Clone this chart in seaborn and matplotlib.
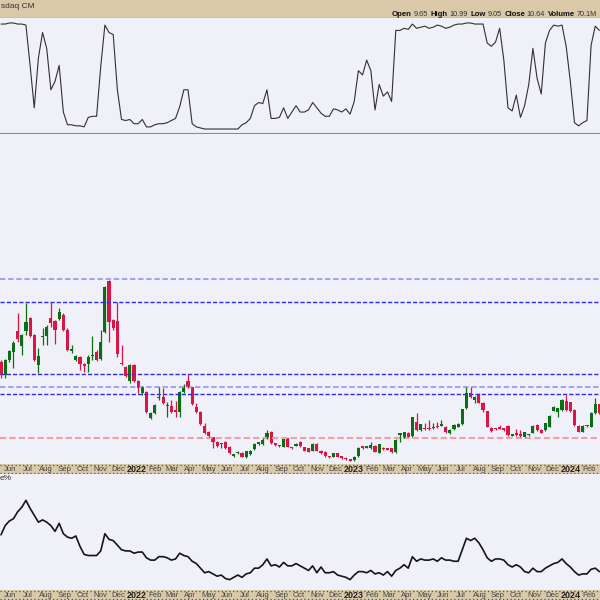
import pandas as pd
import seaborn as sns
import matplotlib.pyplot as plt

sns.set_style("white")
plt.rcParams["font.family"] = ["Liberation Sans", "DejaVu Sans"]

# weekly bars
weeks = pd.date_range("2021-05-24", periods=145, freq="7D")

opens = [14.8, 13.5, 15.0, 15.83, 17.9, 16.4, 17.9, 19.23, 17.5, 14.5,
         17.27, 17.4, 19.17, 18.9, 19.07, 19.5, 18.0, 15.93, 15.0, 15.33,
         14.6, 14.6, 15.37, 15.77, 15.07, 17.83, 22.93, 19.0, 18.9, 14.75,
         14.33, 12.93, 14.5, 12.9, 11.73, 11.83, 9.17, 9.73, 11.2, 11.33,
         10.37, 10.4, 9.93, 9.83, 11.77, 12.9, 12.27, 10.33, 9.83, 8.43,
         7.8, 7.27, 6.83, 6.6, 6.83, 6.33, 5.4, 5.7, 5.73, 5.27,
         5.6, 6.07, 6.63, 6.57, 7.17, 7.83, 6.67, 6.45, 6.33, 7.17,
         6.27, 6.45, 6.83, 6.27, 6.17, 5.93, 6.6, 5.93, 5.8, 5.37,
         5.33, 5.67, 5.4, 5.23, 5.1, 5.0, 5.4, 6.3, 6.23, 6.17,
         6.43, 5.73, 6.23, 6.12, 6.17, 5.8, 7.55, 7.27, 7.73, 7.4,
         8.83, 8.0, 8.15, 8.15, 8.2, 8.37, 8.45, 8.33, 7.67, 8.07,
         8.33, 8.57, 10.17, 11.67, 11.0, 11.5, 10.73, 9.9, 8.23, 8.17,
         8.2, 8.17, 8.4, 7.43, 7.73, 7.6, 7.33, 7.47, 7.73, 8.5,
         8.0, 8.0, 8.33, 9.93, 9.77, 10.0, 10.9, 10.77, 10.0, 8.43,
         7.83, 8.47, 8.33, 9.67, 10.57]
highs = [15.0, 15.1, 16.0, 16.93, 19.67, 17.6, 20.67, 19.3, 17.6, 16.17,
         18.17, 18.5, 20.77, 19.0, 20.17, 19.67, 18.17, 16.5, 15.5, 15.4,
         14.7, 15.5, 17.4, 16.0, 18.0, 22.4, 23.0, 19.1, 20.83, 16.5,
         14.4, 14.6, 14.6, 13.0, 12.4, 11.9, 9.8, 10.6, 12.27, 12.17,
         10.83, 11.0, 10.9, 11.9, 12.6, 13.57, 12.35, 10.73, 9.9, 8.67,
         7.9, 7.35, 6.9, 6.73, 6.9, 6.4, 5.65, 5.87, 5.8, 5.93,
         6.0, 6.73, 6.83, 7.17, 8.0, 7.9, 6.75, 6.5, 7.15, 7.2,
         6.35, 6.73, 6.9, 6.33, 6.23, 6.73, 6.67, 6.0, 5.87, 5.43,
         5.73, 5.73, 5.45, 5.27, 5.13, 5.4, 6.33, 6.37, 6.4, 6.83,
         6.5, 6.63, 6.3, 6.17, 6.23, 7.07, 7.73, 7.85, 7.8, 9.35,
         9.67, 8.65, 8.67, 9.0, 8.67, 8.83, 9.0, 8.4, 8.07, 8.57,
         8.67, 10.15, 12.33, 12.27, 11.4, 11.67, 10.8, 9.95, 8.3, 8.23,
         8.5, 8.23, 8.47, 7.63, 8.07, 8.0, 7.83, 7.6, 8.47, 8.6,
         8.07, 8.73, 9.47, 10.45, 10.25, 11.07, 11.5, 10.85, 10.07, 8.5,
         8.47, 8.53, 9.8, 11.17, 10.65]
lows = [13.2, 13.17, 14.83, 14.17, 16.83, 15.5, 17.5, 17.3, 14.9, 13.67,
        16.5, 16.5, 18.33, 16.57, 19.0, 17.9, 15.93, 15.67, 14.9, 14.0,
        13.83, 13.83, 15.0, 14.9, 15.0, 17.7, 16.83, 18.0, 15.33, 14.5,
        13.3, 12.67, 12.8, 11.73, 11.5, 9.7, 9.1, 9.6, 11.0, 10.6,
        9.27, 9.67, 9.33, 9.27, 11.7, 12.2, 10.5, 9.75, 8.5, 7.65,
        7.35, 6.17, 6.3, 6.17, 6.1, 5.65, 5.33, 5.6, 5.27, 5.2,
        5.5, 6.0, 6.5, 6.5, 7.1, 6.6, 6.45, 6.3, 6.27, 6.27,
        6.15, 6.4, 6.33, 5.87, 5.77, 5.87, 5.87, 5.6, 5.33, 5.23,
        5.27, 5.27, 5.1, 5.0, 4.87, 4.95, 5.35, 6.15, 6.17, 6.1,
        5.77, 5.67, 6.0, 6.0, 5.7, 5.75, 6.83, 7.17, 7.27, 7.33,
        7.95, 7.95, 8.0, 8.0, 8.1, 8.2, 8.4, 7.75, 7.6, 8.0,
        8.27, 8.5, 10.1, 11.2, 10.67, 10.67, 9.77, 8.27, 7.83, 8.0,
        8.07, 7.95, 7.43, 7.37, 7.43, 7.33, 7.27, 7.4, 7.67, 7.9,
        7.67, 7.95, 8.27, 9.87, 9.33, 9.95, 9.95, 9.83, 8.43, 7.77,
        7.77, 8.33, 8.27, 9.6, 9.6]
closes = [13.5, 15.0, 15.93, 16.67, 17.1, 17.5, 18.83, 17.4, 15.0, 15.4,
          17.4, 18.33, 18.67, 18.0, 19.83, 18.0, 16.0, 16.03, 15.4, 14.6,
          14.4, 15.33, 15.45, 15.0, 16.83, 22.27, 18.83, 18.23, 15.57, 14.6,
          13.4, 14.5, 12.93, 12.17, 12.27, 9.83, 9.73, 10.5, 11.3, 10.67,
          10.45, 9.83, 9.83, 11.8, 12.33, 12.27, 10.57, 9.83, 8.57, 7.73,
          7.43, 6.83, 6.4, 6.65, 6.17, 5.73, 5.6, 5.77, 5.33, 5.87,
          5.93, 6.63, 6.7, 7.0, 7.73, 6.67, 6.5, 6.38, 7.07, 6.33,
          6.2, 6.52, 6.4, 5.93, 5.83, 6.6, 5.93, 5.67, 5.4, 5.3,
          5.67, 5.33, 5.17, 5.07, 4.93, 5.33, 6.17, 6.23, 6.3, 6.5,
          5.83, 6.57, 6.07, 6.05, 5.77, 7.0, 7.62, 7.77, 7.33, 9.27,
          8.0, 8.57, 8.08, 8.08, 8.27, 8.3, 8.52, 7.83, 8.0, 8.5,
          8.6, 10.07, 11.67, 11.27, 11.33, 10.73, 10.0, 8.33, 7.9, 8.1,
          8.13, 8.0, 7.5, 7.57, 7.5, 7.4, 7.77, 7.53, 8.4, 8.0,
          7.73, 8.67, 9.4, 10.33, 10.17, 11.0, 10.0, 9.9, 8.5, 7.83,
          8.4, 8.4, 9.73, 10.57, 9.67]

# upper indicator (0-100)
upper_ind = [99, 99, 100, 100, 99, 99, 98, 60, 20, 67,
             91, 76, 37, 45, 60, 16, 4, 4, 3, 3,
             2, 11, 12, 12, 59, 98, 91, 89, 37, 9,
             8, 9, 5, 5, 9, 2, 2, 4, 5, 5,
             6, 8, 10, 21, 37, 37, 5, 2, 1, 0,
             0, 0, 0, 0, 0, 0, 0, 0, 4, 6,
             10, 22, 25, 24, 37, 10, 10, 11, 20, 10,
             16, 22, 16, 16, 18, 25, 20, 15, 12, 12,
             19, 18, 16, 19, 14, 26, 55, 51, 65, 55,
             18, 42, 31, 35, 26, 93, 93, 95, 94, 99,
             95, 96, 97, 95, 96, 98, 97, 95, 96, 98,
             99, 99, 100, 100, 99, 99, 99, 81, 78, 82,
             95, 65, 20, 17, 32, 11, 22, 42, 76, 48,
             33, 81, 93, 98, 97, 98, 78, 45, 6, 3,
             6, 8, 79, 97, 93]

# lower indicator (%)
lower_ind = [48, 56, 60, 62, 68, 72, 78, 71, 65, 59,
             61, 59, 56, 51, 58, 49, 46, 45, 47, 38,
             31, 30, 30, 30, 34, 49, 44, 43, 39, 35,
             34, 34, 32, 33, 33, 28, 26, 26, 29, 29,
             28, 26, 27, 32, 30, 29, 25, 23, 19, 15,
             16, 14, 12, 13, 10, 9, 11, 13, 11, 14,
             15, 19, 19, 22, 27, 21, 22, 20, 24, 21,
             21, 23, 21, 19, 17, 21, 15, 20, 15, 15,
             16, 13, 12, 11, 9, 13, 16, 16, 15, 17,
             14, 15, 13, 16, 12, 17, 19, 22, 19, 29,
             25, 27, 26, 26, 27, 25, 28, 26, 26, 25,
             25, 35, 45, 43, 45, 41, 35, 28, 25, 27,
             27, 26, 22, 20, 22, 20, 16, 15, 19, 16,
             16, 19, 21, 23, 24, 27, 23, 20, 16, 13,
             14, 14, 18, 19, 16]

levels_dark = [20.77, 13.57, 11.57]
levels_light = [23.1, 12.33]
levels_red = [7.23]

month_ticks = pd.date_range("2021-06-01", "2024-02-01", freq="MS")
month_labels = ["Jun", "Jul", "Aug", "Sep", "Oct", "Nov", "Dec",
                "2022", "Feb", "Mar", "Apr", "May", "Jun", "Jul", "Aug", "Sep", "Oct", "Nov", "Dec",
                "2023", "Feb", "Mar", "Apr", "May", "Jun", "Jul", "Aug", "Sep", "Oct", "Nov", "Dec",
                "2024", "Feb"]

hdr_names = ["Open", "High", "Low", "Close", "Volume"]
hdr_values = ["9.65", "10.99", "9.05", "10.64", "70.1M"]

TAN = "#d9c9a9"
PANEL = "#f0f0f8"

fig = plt.figure(figsize=(6, 6), dpi=100)


def px_axes(top, bottom):
    return fig.add_axes([0, 1 - bottom / 600, 1, (bottom - top) / 600])


x_left = weeks[0] - pd.Timedelta(days=1.7)
x_right = weeks[0] + pd.Timedelta(days=1009)

hdr = px_axes(0, 18)
top = px_axes(18, 134)
main = px_axes(134, 464)
band1 = px_axes(464, 474)
bot = px_axes(474, 590)
band2 = px_axes(590, 600)

for ax in [hdr, top, main, band1, bot, band2]:
    ax.set_xlim(x_left, x_right)
    ax.set_xticks([])
    ax.set_yticks([])
    for s in ax.spines.values():
        s.set_visible(False)

hdr.set_facecolor(TAN)
hdr.spines["bottom"].set_visible(True)
hdr.spines["bottom"].set_color("#333333")

# top indicator panel
top.set_facecolor(PANEL)
sns.lineplot(x=weeks, y=upper_ind, ax=top, color="#303030", lw=0.8)
top.set_ylim(-4.7, 104.7)
top.spines["bottom"].set_visible(True)
top.spines["bottom"].set_color("#8a8a8a")
top.spines["bottom"].set_linewidth(1.5)
top.set_xlabel("")
top.set_ylabel("")

# price panel
main.set_facecolor(PANEL)
for y in levels_light:
    main.axhline(y, color="#9c9cf2", lw=1.3, ls=(0, (3, 1.5)))
for y in levels_dark:
    main.axhline(y, color="#2a2ae8", lw=1.0, ls=(0, (3, 1.5)))
for y in levels_red:
    main.axhline(y, color="#f2a0a8", lw=1.5, ls=(0, (3, 1.5)))

cols = ["#0a6e12" if c >= o else "#da1444" for o, c in zip(opens, closes)]
body_lo = [min(o, c) for o, c in zip(opens, closes)]
body_h = [max(abs(c - o), 0.14) for o, c in zip(opens, closes)]
main.vlines(weeks, lows, highs, colors=cols, lw=0.9)
main.bar(weeks, body_h, bottom=body_lo, width=5.3, color=cols, lw=0)
main.set_ylim(4.6, 37.6)

# bottom indicator panel
bot.set_facecolor(PANEL)
sns.lineplot(x=weeks, y=lower_ind, ax=bot, color="#151515", lw=1.2)
bot.set_ylim(0, 100.9)
bot.set_xlabel("")
bot.set_ylabel("")

# date bands
for band in [band1, band2]:
    band.set_facecolor(TAN)
    band.set_ylim(0, 1)
    band.axhline(0.93, color="#555555", lw=0.9, ls=(0, (1, 2)))
    band.axhline(0.07, color="#555555", lw=0.9, ls=(0, (1, 2)))
    for d, lab in zip(month_ticks, month_labels):
        is_year = lab.isdigit()
        band.text(d + pd.Timedelta(days=7), 0.45, lab, ha="center", va="center",
                  fontsize=6.5 if is_year else 5.6,
                  fontweight="bold" if is_year else "normal",
                  color="#222222" if is_year else "#444444")

# header texts, chained right to left from the right edge
fig.text(0.002, 1 - 7 / 600, "sdaq CM", fontsize=6, color="#333333", va="center")
anchor = fig.text(597 / 600, 1 - 14 / 600, hdr_values[-1], fontsize=5.2,
                  color="#333333", ha="right", va="center")
for i in range(len(hdr_names) - 1, -1, -1):
    if i < len(hdr_names) - 1:
        anchor = hdr.annotate(hdr_values[i], xy=(0, 0), xycoords=anchor, xytext=(-2.2, 0),
                              textcoords="offset points", fontsize=5.2, color="#333333",
                              ha="right", va="bottom", annotation_clip=False)
    anchor = hdr.annotate(hdr_names[i], xy=(0, 0), xycoords=anchor, xytext=(-1.0, 0),
                          textcoords="offset points", fontsize=5.6, fontweight="bold",
                          color="#111111", ha="right", va="bottom", annotation_clip=False)

fig.text(0.0, 1 - 478 / 600, "e%", fontsize=6, color="#333333", va="center")

fig.savefig("out.png", dpi=100)
